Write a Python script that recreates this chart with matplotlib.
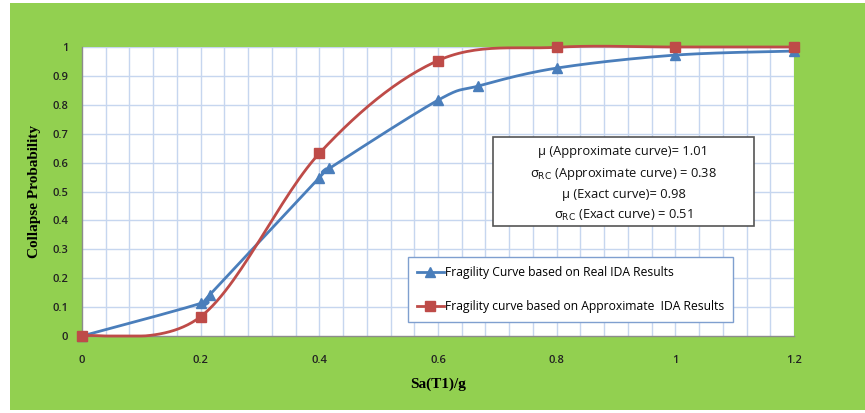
import numpy as np
import matplotlib.pyplot as plt
from matplotlib.patches import Rectangle

# Fragility data: Sa(T1)/g vs collapse probability
sa_real = [0.0, 0.2, 0.215, 0.4, 0.417, 0.6, 0.668, 0.8, 1.0, 1.2]
p_real = [0.0, 0.113, 0.142, 0.548, 0.58, 0.816, 0.865, 0.927, 0.972, 0.986]

sa_approx = [0.0, 0.2, 0.4, 0.6, 0.8, 1.0, 1.2]
p_approx = [0.0, 0.067, 0.632, 0.953, 0.999, 1.0, 1.0]

x_ticks = [0, 0.2, 0.4, 0.6, 0.8, 1.0, 1.2]
x_tick_labels = ['0', '0.2', '0.4', '0.6', '0.8', '1', '1.2']
y_ticks = [0, 0.1, 0.2, 0.3, 0.4, 0.5, 0.6, 0.7, 0.8, 0.9, 1.0]
y_tick_labels = ['0', '0.1', '0.2', '0.3', '0.4', '0.5', '0.6', '0.7', '0.8', '0.9', '1']

stats_lines = [
    r'μ (Approximate curve)= 1.01',
    r'σ$_{\mathrm{RC}}$ (Approximate curve) = 0.38',
    r'μ (Exact curve)= 0.98',
    r'σ$_{\mathrm{RC}}$ (Exact curve) = 0.51',
]

GREEN = '#92d050'
BLUE = '#4a7ebb'
RED = '#be4b48'
GRID = '#c6d6ef'


def smooth(xs, ys, n=30):
    # spreadsheet-style smoothed line (Catmull-Rom through the points)
    p = np.column_stack([xs, ys]).astype(float)
    pts = []
    for i in range(len(p) - 1):
        p0 = p[i - 1] if i > 0 else p[i]
        p1, p2 = p[i], p[i + 1]
        p3 = p[i + 2] if i + 2 < len(p) else p[i + 1]
        c1 = p1 + (p2 - p0) / 6
        c2 = p2 - (p3 - p1) / 6
        t = np.linspace(0, 1, n)[:, None]
        seg = ((1 - t) ** 3 * p1 + 3 * (1 - t) ** 2 * t * c1
               + 3 * (1 - t) * t ** 2 * c2 + t ** 3 * p2)
        pts.append(seg if i == 0 else seg[1:])
    pts = np.vstack(pts)
    return pts[:, 0], pts[:, 1]


fig = plt.figure(figsize=(8.65, 4.13), dpi=100)
fig.patch.set_facecolor('white')
fig.patches.append(Rectangle((10 / 865, 3 / 413), 855 / 865, 407 / 413,
                             transform=fig.transFigure, facecolor=GREEN,
                             edgecolor='none', zorder=-5))

ax = fig.add_axes([82 / 865, 77 / 413, 712 / 865, 289 / 413])
ax.set_zorder(1)
ax.set_facecolor('white')
ax.set_xlim(0, 1.2)
ax.set_ylim(0, 1.0)

# grid: vertical every 0.04, horizontal every 0.1
for gx in np.arange(0.04, 1.2001, 0.04):
    ax.axvline(gx, color=GRID, lw=1.0, zorder=1)
for gy in np.arange(0.1, 1.0001, 0.1):
    ax.axhline(gy, color=GRID, lw=1.0, zorder=1)

for s in ['top', 'right']:
    ax.spines[s].set_visible(False)
for s in ['left', 'bottom']:
    ax.spines[s].set_color('#8c8c8c')
    ax.spines[s].set_linewidth(1.0)

ax.set_xticks(x_ticks)
ax.set_xticklabels(x_tick_labels)
ax.set_yticks(y_ticks)
ax.set_yticklabels(y_tick_labels)
ax.tick_params(length=0, labelsize=8, colors='#222222')
ax.tick_params(axis='x', pad=14)
ax.tick_params(axis='y', pad=10)
for lbl in ax.get_xticklabels() + ax.get_yticklabels():
    lbl.set_family('Open Sans')
    lbl.set_fontweight('semibold')

xs, ys = smooth(sa_real, p_real)
ax.plot(xs, ys, color=BLUE, lw=2.0, zorder=3, clip_on=False)
ax.plot(sa_real, p_real, ls='none', marker='^', ms=7.5, color=BLUE,
        zorder=4, clip_on=False)
xs, ys = smooth(sa_approx, p_approx)
ax.plot(xs, np.maximum(ys, 0), color=RED, lw=2.0, zorder=3, clip_on=False)
ax.plot(sa_approx, p_approx, ls='none', marker='s', ms=7.5, color=RED,
        zorder=4, clip_on=False)

# legend handles
h1, = ax.plot([], [], color=BLUE, lw=2.0, marker='^', ms=7)
h2, = ax.plot([], [], color=RED, lw=2.0, marker='s', ms=7)
leg = ax.legend([h1, h2], ['Fragility Curve based on Real IDA Results',
                           'Fragility curve based on Approximate  IDA Results'],
                loc='upper left', bbox_to_anchor=(0.4579, 0.2734),
                frameon=True, fancybox=False, framealpha=1,
                handlelength=2.2, handletextpad=0.1, labelspacing=1.75,
                borderpad=0.75, borderaxespad=0,
                prop={'family': 'Open Sans', 'size': 8.7})
leg.get_frame().set_edgecolor('#7f9fcf')
leg.get_frame().set_linewidth(1.0)
leg.set_zorder(5)

# statistics box
ax.add_patch(Rectangle((0.5772, 0.3806), 0.3666, 0.308, transform=ax.transAxes,
                       facecolor='white', edgecolor='#555555', lw=1.2,
                       zorder=6))
for txt, yy in zip(stats_lines, [0.6367, 0.5606, 0.4879, 0.4187]):
    ax.text(0.7605, yy, txt, transform=ax.transAxes, ha='center',
            va='center', fontsize=9.3, family='Open Sans', color='#111111',
            zorder=7)

ax.set_xlabel('Sa(T1)/g', family='Liberation Serif', fontweight='bold',
              fontsize=11, labelpad=8)
ax.set_ylabel('Collapse Probability', family='Liberation Serif',
              fontweight='bold', fontsize=11, labelpad=8)

fig.savefig('out.png', dpi=100, facecolor='white')
